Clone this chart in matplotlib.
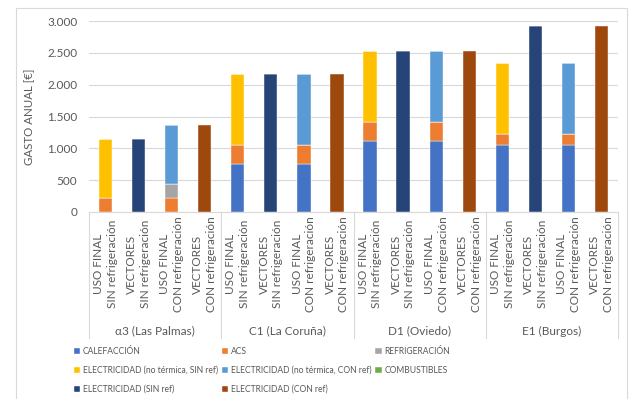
import matplotlib
matplotlib.use("Agg")
import matplotlib.pyplot as plt
import matplotlib.transforms as mtransforms
from matplotlib.patches import Rectangle
from matplotlib.lines import Line2D
from matplotlib.ticker import FuncFormatter
import numpy as np

plt.rcParams['font.family'] = ['Lato', 'DejaVu Sans']

# Climate zones and the four bar types drawn in each
zones = ["α3 (Las Palmas)", "C1 (La Coruña)", "D1 (Oviedo)", "E1 (Burgos)"]
bar_labels = ["USO FINAL\nSIN refrigeración", "VECTORES\nSIN refrigeración",
              "USO FINAL\nCON refrigeración", "VECTORES\nCON refrigeración"]

# Annual cost per component [€], 4 bars per zone
calefaccion = [0, 0, 0, 0, 750, 0, 750, 0, 1110, 0, 1110, 0, 1060, 0, 1060, 0]
acs = [215, 0, 215, 0, 295, 0, 295, 0, 310, 0, 310, 0, 160, 0, 160, 0]
refrigeracion = [0, 0, 230, 0, 0, 0, 0, 0, 0, 0, 0, 0, 0, 0, 0, 0]
elec_no_term_sin = [925, 0, 0, 0, 1120, 0, 0, 0, 1115, 0, 0, 0, 1120, 0, 0, 0]
elec_no_term_con = [0, 0, 920, 0, 0, 0, 1120, 0, 0, 0, 1115, 0, 0, 0, 1120, 0]
combustibles = [0] * 16
elec_sin = [0, 1140, 0, 0, 0, 2165, 0, 0, 0, 2535, 0, 0, 0, 2920, 0, 0]
elec_con = [0, 0, 0, 1365, 0, 0, 0, 2165, 0, 0, 0, 2535, 0, 0, 0, 2920]

series = [
    ("CALEFACCIÓN", calefaccion, "#4472C4"),
    ("ACS", acs, "#ED7D31"),
    ("REFRIGERACIÓN", refrigeracion, "#A5A5A5"),
    ("ELECTRICIDAD (no térmica, SIN ref)", elec_no_term_sin, "#FFC000"),
    ("ELECTRICIDAD (no térmica, CON ref)", elec_no_term_con, "#5B9BD5"),
    ("COMBUSTIBLES", combustibles, "#70AD47"),
    ("ELECTRICIDAD (SIN ref)", elec_sin, "#264478"),
    ("ELECTRICIDAD (CON ref)", elec_con, "#9E480E"),
]

W, H = 633, 399
fig = plt.figure(figsize=(W / 100, H / 100), dpi=100)
fig.patch.set_facecolor("white")

def fx(px):
    return px / W

def fy(py):
    return 1 - py / H

# chart frame
fig.patches.append(Rectangle((fx(16), fy(420)), fx(627) - fx(16), fy(8) - fy(420),
                             transform=fig.transFigure, fill=False,
                             edgecolor="#D9D9D9", linewidth=0.8))

ax = fig.add_axes([fx(89), fy(212), fx(618) - fx(89), fy(21) - fy(212)])

x = np.arange(16)
bottom = np.zeros(16)
handles = []
for name, vals, color in series:
    vals = np.array(vals, dtype=float)
    b = ax.bar(x, vals, width=0.4, bottom=bottom, color=color,
               edgecolor="white", linewidth=0.3, label=name, zorder=3)
    bottom += vals
    handles.append(b)

ax.set_xlim(-0.5, 15.5)
ax.set_ylim(0, 3000)
ax.set_yticks(np.arange(0, 3001, 500))
ax.yaxis.set_major_formatter(FuncFormatter(lambda v, p: f"{int(v):,}".replace(",", ".")))
ax.grid(axis="y", color="#D9D9D9", linewidth=0.8, zorder=0)
ax.tick_params(axis="y", length=0, pad=8.5, labelsize=8.5, colors="#595959")
ax.set_xticks([])
for s in ["top", "right", "left"]:
    ax.spines[s].set_visible(False)
ax.spines["bottom"].set_color("#D9D9D9")
ax.spines["bottom"].set_linewidth(0.8)

ax.set_ylabel("GASTO ANUAL [€]", fontsize=8.3, color="#595959")
ax.yaxis.set_label_coords((35 - 89) / (618 - 89), 0.5)

# category labels and zone labels below the axis
blend = mtransforms.blended_transform_factory(ax.transData, fig.transFigure)
for i in range(16):
    ax.text(x[i], fy(264), bar_labels[i % 4], transform=blend, rotation=90,
            ha="center", va="center", multialignment="center",
            fontsize=8.5, color="#595959", linespacing=1.3)
for g, zone in enumerate(zones):
    ax.text(g * 4 + 1.5, fy(331), zone, transform=blend, ha="center", va="center",
            fontsize=8.5, color="#595959")
for bnd in [-0.5, 3.5, 7.5, 11.5, 15.5]:
    ax.add_line(Line2D([bnd, bnd], [fy(212), fy(338)], transform=blend,
                       color="#D9D9D9", linewidth=0.8, clip_on=False))

# legend, filled column by column in three columns
order = [0, 3, 6, 1, 4, 7, 2, 5]
leg = fig.legend([handles[i] for i in order], [series[i][0] for i in order],
                 ncol=3, loc="upper left", bbox_to_anchor=(fx(74), fy(347)),
                 frameon=False, fontsize=6.15, handlelength=0.75, handleheight=0.75,
                 handletextpad=0.3, columnspacing=0.45, labelspacing=1.15,
                 borderaxespad=0, borderpad=0)
for t in leg.get_texts():
    t.set_color("#595959")

fig.savefig("out.png", dpi=100, facecolor="white")
